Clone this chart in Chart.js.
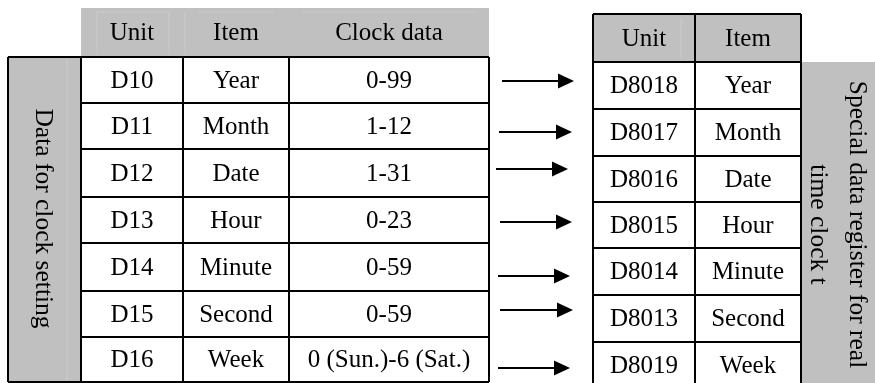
<!DOCTYPE html>
<html>
<head>
<meta charset="utf-8">
<script src="https://cdn.jsdelivr.net/npm/chart.js@4/dist/chart.umd.min.js"></script>
<style>
  html, body { margin: 0; padding: 0; background: #ffffff; }
  #wrap { width: 875px; height: 383px; }
</style>
</head>
<body>
<div id="wrap"><canvas id="myChart" width="875" height="383"></canvas></div>
<script>
// table contents
var leftHeaders = ['Unit', 'Item', 'Clock data'];
var units = ['D10', 'D11', 'D12', 'D13', 'D14', 'D15', 'D16'];
var items = ['Year', 'Month', 'Date', 'Hour', 'Minute', 'Second', 'Week'];
var clockData = ['0-99', '1-12', '1-31', '0-23', '0-59', '0-59', '0 (Sun.)-6 (Sat.)'];
var rightHeaders = ['Unit', 'Item'];
var specialUnits = ['D8018', 'D8017', 'D8016', 'D8015', 'D8014', 'D8013', 'D8019'];
var leftTitle = 'Data for clock setting';
var rightTitle = ['Special data register for real', 'time clock t'];

// layout (in axis units, the axes span the whole canvas)
var layoutLeft = {
    side: [8, 81],
    headTop: 8,
    rows: [57, 103, 149, 197, 243, 291, 337, 382],
    cols: [81, 183, 289, 489]
};
var layoutRight = {
    headTop: 14,
    rows: [62, 109, 156, 202, 248, 295, 342, 389],
    cols: [593, 695, 801],
    sideEnd: 875
};
var arrows = [
    [502, 574, 81], [499, 572, 132], [496, 568, 169], [500, 572, 222],
    [498, 570, 276], [500, 573, 310], [498, 570, 368]
];

var FONT = '25px "Liberation Serif", "Times New Roman", serif';
var SIDE_FONT = '25.5px "Liberation Serif", "Times New Roman", serif';
var GRAY = '#c0c0c0';

var tablePlugin = {
    id: 'tablePlugin',
    afterDraw: function(chart) {
        var ctx = chart.ctx;
        var xs = chart.scales.x, ys = chart.scales.y;
        function X(v) { return xs.getPixelForValue(v); }
        function Y(v) { return ys.getPixelForValue(v); }
        function rect(x0, y0, x1, y1, color) {
            ctx.fillStyle = color;
            ctx.fillRect(X(x0), Y(y0), X(x1) - X(x0), Y(y1) - Y(y0));
        }
        function line(x0, y0, x1, y1, color, w) {
            ctx.strokeStyle = color;
            ctx.lineWidth = w;
            ctx.beginPath();
            ctx.moveTo(X(x0), Y(y0));
            ctx.lineTo(X(x1), Y(y1));
            ctx.stroke();
        }
        function text(s, x, y, rot) {
            ctx.save();
            ctx.translate(X(x), Y(y));
            if (rot) ctx.rotate(Math.PI / 2);
            ctx.fillStyle = '#000000';
            ctx.font = rot ? SIDE_FONT : FONT;
            ctx.textAlign = 'center';
            ctx.textBaseline = 'middle';
            ctx.fillText(s, 0, 0);
            ctx.restore();
        }

        ctx.save();
        // ---- left table ----
        var L = layoutLeft;
        var lb = L.rows[L.rows.length - 1];
        rect(L.cols[0], L.headTop, L.cols[3], L.rows[0], GRAY);
        rect(L.side[0], L.rows[0], L.side[1], lb, GRAY);
        // faint inset lines in the gray areas
        var faint = '#cbcbcb';
        line(97, 12, 169, 12, faint, 1); line(97, 12, 97, 55, faint, 1); line(169, 12, 169, 55, faint, 1);
        line(198, 12, 274, 12, faint, 1); line(185, 12, 185, 55, faint, 1);
        line(302, 12, 477, 12, faint, 1);
        line(67, 60, 67, 380, faint, 1);
        for (var c = 0; c < 3; c++) {
            text(leftHeaders[c], (L.cols[c] + L.cols[c + 1]) / 2, (L.headTop + L.rows[0]) / 2 + 1);
        }
        for (var r = 0; r < units.length; r++) {
            var cy = (L.rows[r] + L.rows[r + 1]) / 2 + 1;
            text(units[r], (L.cols[0] + L.cols[1]) / 2, cy);
            text(items[r], (L.cols[1] + L.cols[2]) / 2, cy);
            text(clockData[r], (L.cols[2] + L.cols[3]) / 2, cy);
        }
        for (var i = 0; i < L.rows.length; i++) {
            var x0 = (i === 0 || i === L.rows.length - 1) ? L.side[0] : L.cols[0];
            line(x0, L.rows[i], L.cols[3], L.rows[i], '#000', 2);
        }
        line(L.side[0], L.rows[0], L.side[0], lb, '#000', 2);
        L.cols.forEach(function(cx) { line(cx, L.rows[0], cx, lb, '#000', 2); });
        text(leftTitle, 43, (L.rows[0] + lb) / 2 - 1, true);

        // ---- arrows ----
        arrows.forEach(function(a) {
            line(a[0], a[2], a[1] - 12, a[2], '#000', 2.2);
            ctx.fillStyle = '#000';
            ctx.beginPath();
            ctx.moveTo(X(a[1]), Y(a[2]));
            ctx.lineTo(X(a[1] - 16), Y(a[2] - 7.5));
            ctx.lineTo(X(a[1] - 16), Y(a[2] + 7.5));
            ctx.closePath();
            ctx.fill();
        });

        // ---- right table ----
        var R = layoutRight;
        var rb = R.rows[R.rows.length - 1];
        rect(R.cols[0], R.headTop, R.cols[2], R.rows[0], GRAY);
        rect(R.cols[2], R.rows[0], R.sideEnd, rb, GRAY);
        line(681, 18, 681, 58, faint, 1);
        for (var c2 = 0; c2 < 2; c2++) {
            text(rightHeaders[c2], (R.cols[c2] + R.cols[c2 + 1]) / 2, (R.headTop + R.rows[0]) / 2 + 1);
        }
        for (var r2 = 0; r2 < specialUnits.length; r2++) {
            var cy2 = (R.rows[r2] + R.rows[r2 + 1]) / 2 + 1;
            text(specialUnits[r2], (R.cols[0] + R.cols[1]) / 2, cy2);
            text(items[r2], (R.cols[1] + R.cols[2]) / 2, cy2);
        }
        line(R.cols[0], R.headTop, R.cols[2], R.headTop, '#000', 2);
        R.rows.forEach(function(ry) { line(R.cols[0], ry, R.cols[2], ry, '#000', 2); });
        R.cols.forEach(function(cx) { line(cx, R.headTop, cx, rb, '#000', 2); });
        var sideMid = (R.rows[0] + 383) / 2 + 2;
        text(rightTitle[0], 857, sideMid, true);
        text(rightTitle[1], 818, sideMid, true);
        ctx.restore();
    }
};

var ctx = document.getElementById('myChart').getContext('2d');
var chart = new Chart(ctx, {
    type: 'scatter',
    data: { datasets: [] },
    options: {
        responsive: false,
        animation: false,
        events: [],
        layout: { padding: 0 },
        plugins: { legend: { display: false }, tooltip: { enabled: false } },
        scales: {
            x: { type: 'linear', min: 0, max: 875, display: false },
            y: { type: 'linear', min: 0, max: 383, reverse: true, display: false }
        }
    },
    plugins: [tablePlugin]
});
</script>
</body>
</html>
